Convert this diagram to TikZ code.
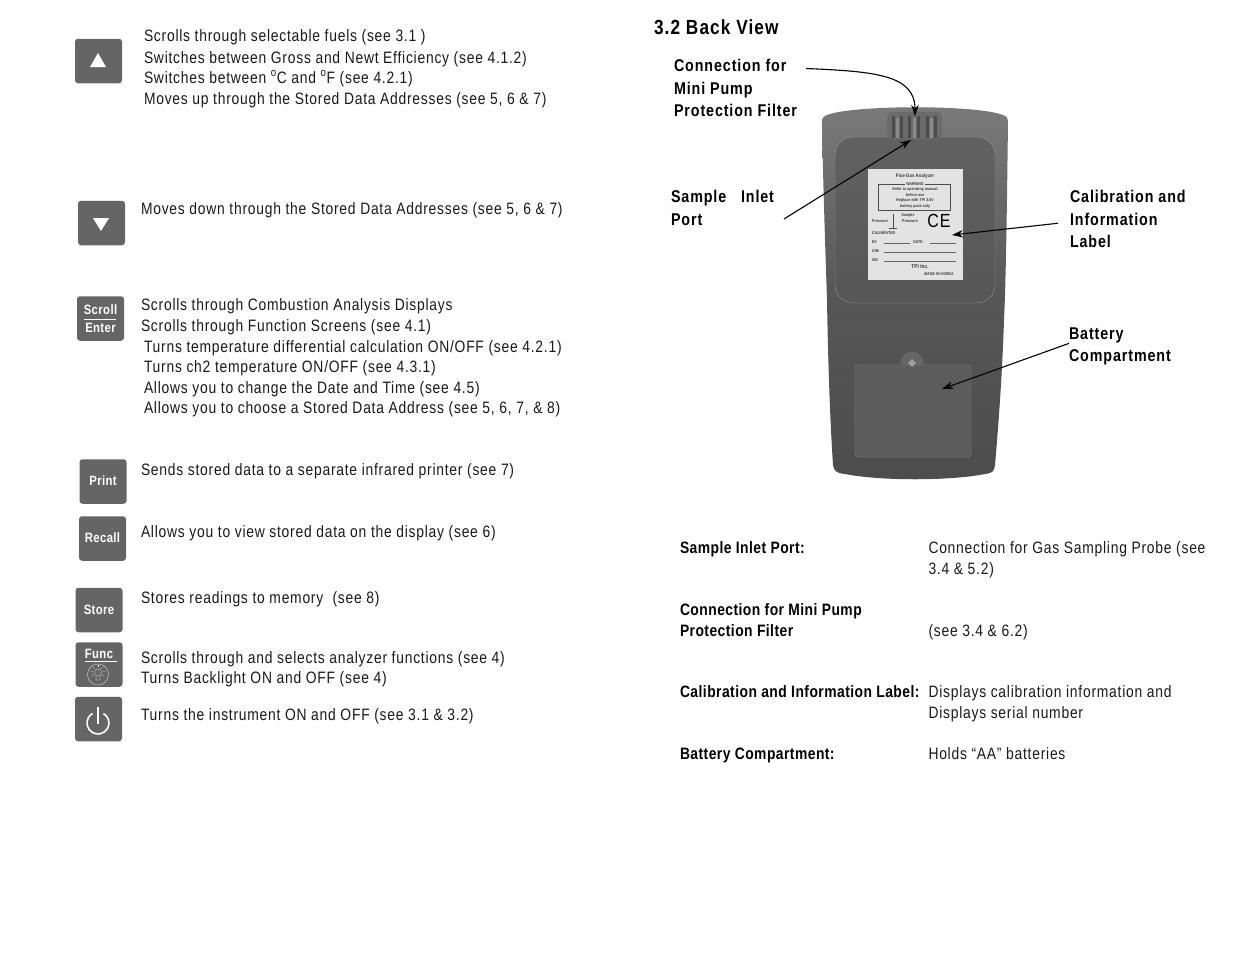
\documentclass[tikz,border=0pt]{standalone}
\usepackage{fontspec}
\usetikzlibrary{arrows.meta}
\setmainfont[FakeStretch=0.84,LetterSpace=4.6,BoldFeatures={FakeStretch=0.84,LetterSpace=2.8}]{Liberation Sans}
\newfontfamily\lblfont[FakeStretch=0.84,LetterSpace=5.3]{Liberation Sans Bold}
\definecolor{keygray}{HTML}{656565}
\begin{document}
\begin{tikzpicture}
  [x=1pt,y=-1pt,
   every node/.style={inner sep=0pt,outer sep=0pt},
   txt/.style={anchor=base west,yshift=-0.5pt,font=\fontsize{16.5}{20}\selectfont,text=black!90},
   lbl/.style={anchor=north west,align=left,font=\fontsize{17}{22.5}\selectfont\lblfont,text=black},
   hdr/.style={anchor=base west,yshift=-0.5pt,font=\fontsize{16.5}{20}\selectfont\bfseries,text=black},
   key/.style={fill=keygray,rounded corners=3pt,minimum width=47pt,minimum height=44.5pt,
     align=center,text=white,font=\fontsize{13.5}{17}\selectfont\bfseries},
   tiny/.style={font=\fontsize{4.1}{5}\selectfont\bfseries,text=black!80},
   arr/.style={-{Stealth[length=11pt,width=7.5pt]},line width=1.1pt,black}]
  \useasboundingbox (0,0) rectangle (1235,954);

  % keys
  \node[key] (up) at (98.5,61) {};
  \node[key] (down) at (101.5,223) {};
  \node[key] (scroll) at (100.5,318.5) {Scroll\\[0.5pt]Enter};
  \node[key] (print) at (103,481.5) {\raisebox{1.5pt}{Print}};
  \node[key] (recall) at (102.5,538.5) {\raisebox{1.5pt}{Recall}};
  \node[key] (store) at (99,610) {Store};
  \node[key] (func) at (99,664.5) {};
  \node[key] (power) at (98.5,719) {};
  \fill[white] (98,53) -- (106,67) -- (90,67) -- cycle;
  \fill[white] (101,231) -- (93,218) -- (109,218) -- cycle;
  \draw[white,thick] (84,319.5) -- (116,319.5);
  \node[anchor=base,text=white,font=\fontsize{13.5}{17}\selectfont\bfseries] (functxt) at (99,658) {Func};
  \draw[white,thick] (85,661) -- (117,661);
  \node[circle,draw=white!85!black,thin,minimum size=21pt] (bulb) at (98,674.5) {};
  \draw[white,very thin] (98,672.5) circle (3.6) (96,676) -- (96,680) -- (100,680) -- (100,676);
  \foreach \a in {-170,-135,-90,-45,-10,30,150}
    \draw[white,very thin] (98,672.5) ++(\a:5.2) -- ++(\a:2);
  \draw[white,line width=1.6pt] (98,723) ++(-60:11) arc (-60:240:11);
  \draw[white,line width=1.6pt] (98,707) -- (98,724);

  % key texts
  \node[txt] (t1) at (144,41) {Scrolls through selectable fuels (see 3.1 )};
  \node[txt] (t2) at (144,62.5) {Switches between Gross and Newt Efficiency (see 4.1.2)};
  \node[txt] (t3) at (144,82.5) {Switches between \textsuperscript{o}C and \textsuperscript{o}F (see 4.2.1)};
  \node[txt] (t4) at (144,103.5) {Moves up through the Stored Data Addresses (see 5, 6 \& 7)};
  \node[txt] (t5) at (141,213.5) {Moves down through the Stored Data Addresses (see 5, 6 \& 7)};
  \node[txt] (t6) at (141,309.5) {Scrolls through Combustion Analysis Displays};
  \node[txt] (t7) at (141,330.5) {Scrolls through Function Screens (see 4.1)};
  \node[txt] (t8) at (144,351.5) {Turns temperature differential calculation ON/OFF (see 4.2.1)};
  \node[txt] (t9) at (144,371.5) {Turns ch2 temperature ON/OFF (see 4.3.1)};
  \node[txt] (t10) at (144,392.5) {Allows you to change the Date and Time (see 4.5)};
  \node[txt] (t11) at (144,412.5) {Allows you to choose a Stored Data Address (see 5, 6, 7, \& 8)};
  \node[txt] (t12) at (141,474.5) {Sends stored data to a separate infrared printer (see 7)};
  \node[txt] (t13) at (141,536.5) {Allows you to view stored data on the display (see 6)};
  \node[txt] (t14) at (141,602.5) {Stores readings to memory\ \ (see 8)};
  \node[txt] (t15) at (141,662.5) {Scrolls through and selects analyzer functions (see 4)};
  \node[txt] (t16) at (141,682.5) {Turns Backlight ON and OFF (see 4)};
  \node[txt] (t17) at (141,719.5) {Turns the instrument ON and OFF (see 3.1 \& 3.2)};

  % back view
  \node[anchor=base west,font=\fontsize{20.5}{25}\selectfont\lblfont] (title) at (654,34.5) {3.2 Back View};
  \path[top color=black!52,bottom color=black!70,middle color=black!66]
    (822,122) .. controls (822,117) and (824,116) .. (830,114)
    .. controls (860,105) and (970,105) .. (1000,114)
    .. controls (1006,116) and (1008,117) .. (1008,122)
    .. controls (1007,200) and (1006,280) .. (1004,320)
    .. controls (1002,380) and (998,430) .. (995,465)
    .. controls (994,472) and (992,473) .. (985,474)
    .. controls (950,481) and (880,481) .. (845,474)
    .. controls (836,473) and (834,471) .. (833,465)
    .. controls (830,420) and (828,360) .. (827,300)
    .. controls (825,240) and (823,180) .. (822,122) -- cycle;
  \draw[black!42,top color=black!62,bottom color=black!66,rounded corners=18pt] (835,137) rectangle (995,303);
  \fill[black!58,rounded corners=5pt] (887,112) rectangle (942,139);
  \foreach \x in {892,900,908,917,926,934}
    \fill[black!70] (\x,116) rectangle ++(2.5,22);
  \foreach \x in {896,913,930}
    \fill[black!46] (\x,118) rectangle ++(3,20);
  \node[fill=black!11,minimum width=95pt,minimum height=111pt] (tag) at (915.5,224.5) {};
  \node[tiny,font=\fontsize{5}{6}\selectfont\bfseries] (tag1) at (915,176) {Flue Gas Analyzer};
  \draw[black!70,thin] (878,184) rectangle (950,210);
  \node[tiny,fill=black!11,inner xsep=1pt] (tag2) at (915,184) {WARNING};
  \node[tiny,align=center,font=\fontsize{4.1}{5.5}\selectfont\bfseries] (tag3) at (915,198) {Refer to operating manual\\before use\\Replace with TPI 3.6V\\battery pack only};
  \node[tiny] (tag4) at (880,221) {Pressure};
  \node[tiny] (tag5) at (910,221) {Pressure};
  \node[tiny] (tag13) at (908,215) {Sample};
  \draw[black!70,very thin] (893,214) -- (893,228) (889,228) -- (897,228);
  \node[font=\fontsize{19}{19}\selectfont,text=black] (ce) at (939,221) {CE};
  \node[tiny,anchor=west] (tag6) at (872,233) {CALIBRATED};
  \node[tiny,anchor=west] (tag7) at (872,242) {BY};
  \node[tiny] (tag8) at (918,242) {DATE};
  \node[tiny,anchor=west] (tag9) at (872,251) {O/M};
  \node[tiny,anchor=west] (tag10) at (872,260) {S/N};
  \foreach \x/\xx/\y in {884/910/243,930/956/243,884/956/252,884/956/261}
    \draw[black!60,very thin] (\x,\y) -- (\xx,\y);
  \node[tiny,font=\fontsize{5.5}{6}\selectfont\bfseries] (tag11) at (920,267) {TPI Inc.};
  \node[tiny] (tag12) at (939,274) {MADE IN KOREA};
  \fill[black!60] (912,363) circle (11.5);
  \draw[black!50,fill=black!64,rounded corners=3pt] (855,365) rectangle (971,457);
  \fill[black!38] (912,359) -- (916,363) -- (912,367) -- (908,363) -- cycle;

  % callouts
  \node[lbl] (lblfilter) at (674,59.5) {Connection for\\Mini Pump\\Protection Filter};
  \node[lbl] (lblinlet) at (671,190.5) {Sample\ \ \hspace{5pt}Inlet\\Port};
  \node[lbl] (lblcal) at (1070,190.5) {Calibration and\\Information\\Label};
  \node[lbl] (lblbat) at (1069,327.5) {Battery\\Compartment};
  \coordinate (tipfilter) at (915,116);
  \coordinate (tipinlet) at (911,140);
  \coordinate (tipcal) at (952,235);
  \coordinate (tipbat) at (942,389);
  \draw[arr] ([xshift=9pt,yshift=-9pt]lblfilter.north east) .. controls +(70,3) and (915,75) .. (tipfilter);
  \draw[arr] ([xshift=10pt,yshift=6.5pt]lblinlet.south east) -- (tipinlet);
  \draw[arr] ([xshift=-12pt,yshift=-4pt]lblcal.west) -- (tipcal);
  \draw[arr] ([yshift=3pt]lblbat.west) -- (tipbat);

  % table
  \node[hdr] (h1) at (680,552.5) {Sample Inlet Port:};
  \node[txt] (d1) at (928.5,552.5) {Connection for Gas Sampling Probe (see};
  \node[txt] (d2) at (928.5,573.5) {3.4 \& 5.2)};
  \node[hdr] (h2) at (680,614.5) {Connection for Mini Pump};
  \node[hdr] (h3) at (680,635.5) {Protection Filter};
  \node[txt] (d3) at (928.5,635.5) {(see 3.4 \& 6.2)};
  \node[hdr] (h4) at (680,696.5) {Calibration and Information Label:};
  \node[txt] (d4) at (928.5,696.5) {Displays calibration information and};
  \node[txt] (d5) at (928.5,717.5) {Displays serial number};
  \node[hdr] (h5) at (680,758.5) {Battery Compartment:};
  \node[txt] (d6) at (928.5,758.5) {Holds “AA” batteries};
\end{tikzpicture}
\end{document}
